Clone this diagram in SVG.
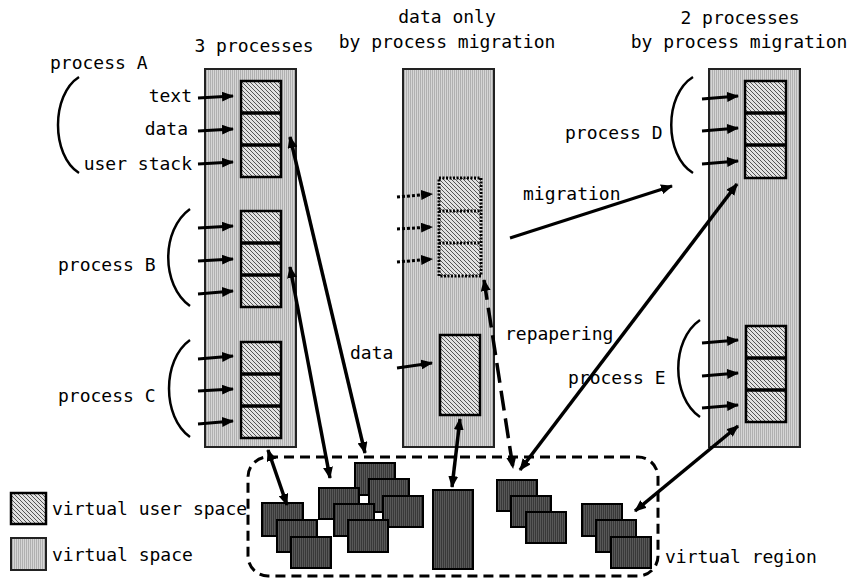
<svg xmlns="http://www.w3.org/2000/svg" width="857" height="580" viewBox="0 0 857 580">
<style>
text{font-family:"DejaVu Sans Mono","Liberation Mono",monospace;font-size:18px;fill:#000}
.col{fill:url(#vs);stroke:#222;stroke-width:2}
.seg{fill:url(#us);stroke:#000;stroke-width:2.5}
.div{stroke:#000;stroke-width:3.5}
.dseg{fill:url(#us);stroke:#000;stroke-width:3;stroke-dasharray:2 1.5}
.ddiv{stroke:#000;stroke-width:3;stroke-dasharray:2 1.5}
.blk{fill:url(#dk);stroke:#000;stroke-width:2}
.brace{fill:none;stroke:#000;stroke-width:2.5}
.arr{fill:none;stroke:#000;stroke-width:3;marker-end:url(#ah)}
.dbl{fill:none;stroke:#000;stroke-width:3.5;marker-end:url(#ah);marker-start:url(#ah)}
.dot{fill:none;stroke:#000;stroke-width:3;stroke-dasharray:3 2;marker-end:url(#ah)}
</style>
<defs>
<pattern id="vs" width="2" height="4" patternUnits="userSpaceOnUse"><rect width="2" height="4" fill="#d6d6d6"/><rect width="1" height="4" fill="#b0b0b0"/></pattern>
<pattern id="us" width="4" height="4" patternUnits="userSpaceOnUse"><rect width="4" height="4" fill="#e2e2e2"/><path d="M-1,-1 L5,5 M-1,3 L1,5 M3,-1 L5,1" stroke="#555" stroke-width="1"/></pattern>
<pattern id="dk" width="2" height="4" patternUnits="userSpaceOnUse"><rect width="2" height="4" fill="#383838"/><rect width="1" height="4" fill="#585858"/></pattern>
<marker id="ah" markerUnits="userSpaceOnUse" markerWidth="12" markerHeight="10" refX="11" refY="5" orient="auto-start-reverse" viewBox="0 0 12 10"><path d="M0,0 L12,5 L0,10 z" fill="#000"/></marker>
</defs>

<g id="titles">
<text x="254" y="52" text-anchor="middle">3 processes</text>
<text x="447" y="23" text-anchor="middle">data only</text>
<text x="447" y="48" text-anchor="middle">by process migration</text>
<text x="740" y="24" text-anchor="middle">2 processes</text>
<text x="739" y="48" text-anchor="middle">by process migration</text>
</g>

<g id="column1">
<rect class="col" x="205" y="69" width="91" height="378"/>
</g>
<g id="column2">
<rect class="col" x="403" y="69" width="91" height="378"/>
</g>
<g id="column3">
<rect class="col" x="709" y="69" width="91" height="378"/>
</g>

<g id="processA">
<rect class="seg" x="241" y="81" width="40" height="96"/>
<line class="div" x1="241" y1="113" x2="281" y2="113"/>
<line class="div" x1="241" y1="145" x2="281" y2="145"/>
<path class="brace" d="M79,77 C51,95 51,155 79,173"/>
<text x="50" y="69">process A</text>
<text x="192" y="102" text-anchor="end">text</text>
<text x="188" y="135" text-anchor="end">data</text>
<text x="192" y="170" text-anchor="end">user stack</text>
</g>

<g id="processB">
<rect class="seg" x="241" y="211" width="40" height="96"/>
<line class="div" x1="241" y1="243" x2="281" y2="243"/>
<line class="div" x1="241" y1="275" x2="281" y2="275"/>
<path class="brace" d="M190,209 C161,230 161,285 190,306"/>
<text x="58" y="271">process B</text>
</g>

<g id="processC">
<rect class="seg" x="241" y="342" width="40" height="96"/>
<line class="div" x1="241" y1="374" x2="281" y2="374"/>
<line class="div" x1="241" y1="406" x2="281" y2="406"/>
<path class="brace" d="M190,340 C162,360 162,417 190,437"/>
<text x="58" y="402">process C</text>
</g>

<g id="migrated">
<rect class="dseg" x="439" y="178" width="42" height="98"/>
<line class="ddiv" x1="439" y1="211" x2="481" y2="211"/>
<line class="ddiv" x1="439" y1="243" x2="481" y2="243"/>
</g>

<g id="dataBlock">
<rect class="seg" x="440" y="335" width="40" height="80"/>
<text x="350" y="359">data</text>
</g>

<g id="processD">
<rect class="seg" x="745" y="81" width="41" height="97"/>
<line class="div" x1="745" y1="113" x2="786" y2="113"/>
<line class="div" x1="745" y1="145" x2="786" y2="145"/>
<path class="brace" d="M693,77 C664,95 664,155 693,173"/>
<text x="565" y="139">process D</text>
</g>

<g id="processE">
<rect class="seg" x="746" y="326" width="40" height="96"/>
<line class="div" x1="746" y1="358" x2="786" y2="358"/>
<line class="div" x1="746" y1="390" x2="786" y2="390"/>
<path class="brace" d="M700,320 C671,340 671,397 700,417"/>
<text x="568" y="384">process E</text>
</g>

<g id="virtualRegion">
<rect x="248" y="457" width="410" height="119" rx="20" ry="20" fill="none" stroke="#000" stroke-width="3" stroke-dasharray="10 6"/>
<text x="665" y="563">virtual region</text>
</g>

<g id="blocks1">
<rect class="blk" x="262" y="503" width="41" height="33"/>
<rect class="blk" x="277" y="520" width="40" height="32"/>
<rect class="blk" x="291" y="537" width="40" height="31"/>
</g>
<g id="blocks3">
<rect class="blk" x="355" y="463" width="40" height="32"/>
<rect class="blk" x="369" y="479" width="40" height="33"/>
<rect class="blk" x="383" y="496" width="40" height="31"/>
</g>
<g id="blocks2">
<rect class="blk" x="319" y="488" width="40" height="31"/>
<rect class="blk" x="334" y="504" width="40" height="32"/>
<rect class="blk" x="348" y="520" width="40" height="32"/>
</g>
<g id="bigBlock">
<rect class="blk" x="433" y="490" width="40" height="79"/>
</g>
<g id="blocks4">
<rect class="blk" x="497" y="480" width="40" height="31"/>
<rect class="blk" x="511" y="496" width="40" height="31"/>
<rect class="blk" x="526" y="512" width="40" height="31"/>
</g>
<g id="blocks5">
<rect class="blk" x="582" y="504" width="40" height="32"/>
<rect class="blk" x="596" y="520" width="40" height="32"/>
<rect class="blk" x="611" y="537" width="40" height="31"/>
</g>

<g id="legend">
<rect class="seg" x="11" y="493" width="35" height="31"/>
<text x="52" y="515">virtual user space</text>
<rect class="col" x="11" y="538" width="35" height="32"/>
<text x="52" y="561">virtual space</text>
</g>

<g id="labels">
<text x="523" y="200">migration</text>
<text x="505" y="340">repapering</text>
</g>

<g id="connectors">
<path class="arr" d="M198,98 L233,96"/>
<path class="arr" d="M198,131 L233,129"/>
<path class="arr" d="M198,164 L233,162"/>
<path class="arr" d="M198,228 L233,226"/>
<path class="arr" d="M198,261 L233,259"/>
<path class="arr" d="M198,294 L233,291"/>
<path class="arr" d="M198,359 L233,356"/>
<path class="arr" d="M198,391 L233,389"/>
<path class="arr" d="M198,424 L233,421"/>
<path class="dot" d="M397,197 L432,194"/>
<path class="dot" d="M397,229 L432,227"/>
<path class="dot" d="M397,262 L432,259"/>
<path class="arr" d="M397,368 L432,363"/>
<path class="arr" d="M702,99 L738,96"/>
<path class="arr" d="M702,131 L738,128"/>
<path class="arr" d="M702,164 L738,161"/>
<path class="arr" d="M702,343 L738,340"/>
<path class="arr" d="M702,376 L738,373"/>
<path class="arr" d="M702,408 L738,405"/>
<path class="arr" d="M510,238 L672,186"/>
<path class="dbl" d="M290,137 L365,453"/>
<path class="dbl" d="M290,267 L330,478"/>
<path class="dbl" d="M268,450 L287,505"/>
<path class="dbl" d="M460,419 L452,487"/>
<path class="dbl" d="M484,280 L513,468" stroke-dasharray="20 8"/>
<path class="dbl" d="M737,184 L520,470"/>
<path class="dbl" d="M738,426 L635,511"/>
</g>
</svg>
